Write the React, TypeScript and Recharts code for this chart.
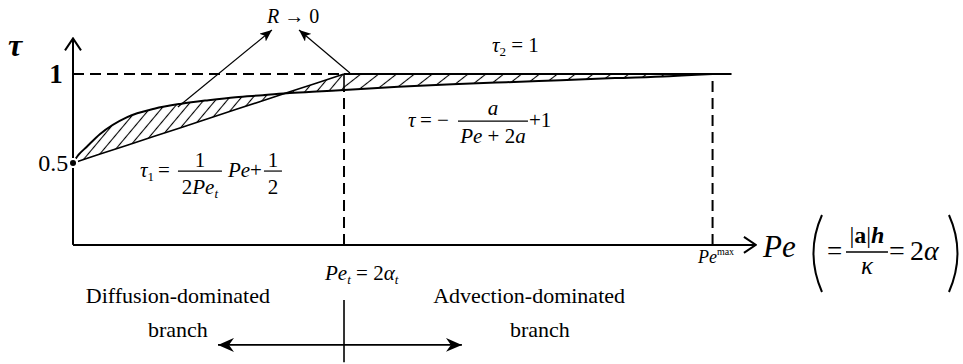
import React from 'react';
import { Area, ComposedChart, Line, ReferenceDot, ReferenceLine, XAxis, YAxis } from 'recharts';

const SERIF = '"Liberation Serif", "Times New Roman", Times, serif';
const INK = '#000';

// Pe samples along the horizontal axis, in units of Pe_t
const PE = [0, 0.02, 0.05, 0.1, 0.2, 0.3, 0.4, 0.5, 0.6, 0.7, 0.8, 0.9, 1.0, 1.2, 1.4, 1.6, 1.8, 2.0, 2.2, 2.3, 2.36, 2.43];
// optimal tau (diffusion branch, then -a/(Pe+2a)+1)
const TAU_OPT = [0.5, 0.545, 0.59, 0.663, 0.758, 0.805, 0.833, 0.853, 0.87, 0.881, 0.893, 0.902, 0.91, 0.928, 0.942, 0.954, 0.965, 0.977, 0.988, 0.996, 1.0, null];
// tau_1 = Pe/(2 Pe_t) + 1/2
const TAU_1 = [0.5, 0.51, 0.525, 0.55, 0.6, 0.65, 0.7, 0.75, 0.8, 0.85, 0.9, 0.95, 1.0, null, null, null, null, null, null, null, null, null];
// tau_2 = 1
const TAU_2 = [null, null, null, null, null, null, null, null, null, null, null, null, 1, 1, 1, 1, 1, 1, 1, 1, 1, 1];

const PE_T = 1;
const PE_MAX = 2.36;
const TAU_T = 0.91;
const AXIS_TAU = 0.04;
const AXIS_TOP = 1.2;
const AXIS_END = 2.52;

const X_DOMAIN: [number, number] = [-0.2694, 3.2841];
const Y_DOMAIN: [number, number] = [-0.6292, 1.4157];

const data = PE.map((pe, i) => ({ pe, opt: TAU_OPT[i], lin: TAU_1[i], top: TAU_2[i] }));

const lowerBand = (d: any) => (d.lin != null && d.opt != null ? [d.lin, d.opt] : null);
const upperBand = (d: any) => (d.top != null && d.opt != null ? [d.opt, d.top] : null);

const arrow = (marker: string, start?: string) => (p: any) => (
  <line
    x1={p.x1}
    y1={p.y1}
    x2={p.x2}
    y2={p.y2}
    stroke={INK}
    strokeWidth={p.strokeWidth}
    markerEnd={`url(#${marker})`}
    markerStart={start ? `url(#${start})` : undefined}
  />
);

type At = { x: number; y: number };

function Tau1Formula({ x, y }: At) {
  return (
    <g fontFamily={SERIF} fontSize={21} fill={INK}>
      <text x={x} y={y} fontStyle="italic">
        τ<tspan fontStyle="normal" fontSize={13} dy={4}>1</tspan>
      </text>
      <text x={x + 18} y={y}>=</text>
      <line x1={x + 38} x2={x + 82} y1={y - 6} y2={y - 6} stroke={INK} strokeWidth={1.2} />
      <text x={x + 60} y={y - 10} textAnchor="middle">1</text>
      <text x={x + 60} y={y + 17} textAnchor="middle">
        2<tspan fontStyle="italic">Pe</tspan>
        <tspan fontStyle="italic" fontSize={13} dy={4}>t</tspan>
      </text>
      <text x={x + 88} y={y} fontStyle="italic">Pe</text>
      <text x={x + 110} y={y}>+</text>
      <line x1={x + 124} x2={x + 142} y1={y - 6} y2={y - 6} stroke={INK} strokeWidth={1.2} />
      <text x={x + 133} y={y - 10} textAnchor="middle">1</text>
      <text x={x + 133} y={y + 17} textAnchor="middle">2</text>
    </g>
  );
}

function TauRightFormula({ x, y }: At) {
  return (
    <g fontFamily={SERIF} fontSize={21} fill={INK}>
      <text x={x} y={y} fontStyle="italic">τ</text>
      <text x={x + 12} y={y}>=</text>
      <text x={x + 29} y={y}>−</text>
      <line x1={x + 50} x2={x + 120} y1={y - 6} y2={y - 6} stroke={INK} strokeWidth={1.2} />
      <text x={x + 85} y={y - 12} textAnchor="middle" fontStyle="italic">a</text>
      <text x={x + 85} y={y + 16} textAnchor="middle">
        <tspan fontStyle="italic">Pe</tspan> + 2<tspan fontStyle="italic">a</tspan>
      </text>
      <text x={x + 121} y={y}>+1</text>
    </g>
  );
}

function Tau2Formula({ x, y }: At) {
  return (
    <text x={x} y={y} fontFamily={SERIF} fontSize={21} fill={INK}>
      <tspan fontStyle="italic">τ</tspan>
      <tspan fontSize={13} dy={4}>2</tspan>
      <tspan dy={-4}> = 1</tspan>
    </text>
  );
}

function PeTLabel({ x, y }: At) {
  return (
    <text x={x} y={y} fontFamily={SERIF} fontSize={21} fill={INK}>
      <tspan fontStyle="italic">Pe</tspan>
      <tspan fontStyle="italic" fontSize={13} dy={4}>t</tspan>
      <tspan dy={-4}> = 2</tspan>
      <tspan fontStyle="italic">α</tspan>
      <tspan fontStyle="italic" fontSize={13} dy={4}>t</tspan>
    </text>
  );
}

function PeMaxLabel({ x, y }: At) {
  return (
    <text x={x} y={y} fontFamily={SERIF} fontSize={18} fill={INK}>
      <tspan fontStyle="italic">Pe</tspan>
      <tspan fontSize={10} dy={-8}>max</tspan>
    </text>
  );
}

function PeAxisTitle({ x, y }: At) {
  const px = x + 49;
  return (
    <g fontFamily={SERIF} fill={INK}>
      <text x={x} y={y} fontSize={31} fontStyle="italic">Pe</text>
      <path d={`M${px + 10},${y - 42} Q${px - 7},${y - 4} ${px + 10},${y + 35}`} fill="none" stroke={INK} strokeWidth={2} />
      <text x={px + 15} y={y + 3} fontSize={27}>=</text>
      <line x1={px + 34} x2={px + 76} y1={y - 5} y2={y - 5} stroke={INK} strokeWidth={1.3} />
      <text x={px + 55} y={y - 14} fontSize={24} textAnchor="middle">
        |<tspan fontWeight="bold">a</tspan>|<tspan fontStyle="italic" fontWeight="bold">h</tspan>
      </text>
      <text x={px + 55} y={y + 17} fontSize={25} textAnchor="middle" fontStyle="italic">κ</text>
      <text x={px + 77} y={y + 3} fontSize={28}>=</text>
      <text x={px + 98} y={y + 3} fontSize={28}>
        2<tspan fontStyle="italic">α</tspan>
      </text>
      <path d={`M${px + 137},${y - 42} Q${px + 154},${y - 4} ${px + 137},${y + 35}`} fill="none" stroke={INK} strokeWidth={2} />
    </g>
  );
}

const label =
  (node: (at: At) => React.ReactElement) =>
  (p: any) =>
    node({ x: p.cx, y: p.cy });

const plain =
  (text: string, size: number, anchor: 'start' | 'middle' | 'end' = 'start', style: React.CSSProperties = {}) =>
  (p: any) => (
    <text x={p.cx} y={p.cy} fontFamily={SERIF} fontSize={size} textAnchor={anchor} fill={INK} style={style}>
      {text}
    </text>
  );

export default function App() {
  return (
    <div style={{ position: 'absolute', left: 0, top: 0, width: 963, height: 364, background: '#fff' }}>
      <ComposedChart width={963} height={364} data={data} margin={{ top: 0, right: 0, bottom: 0, left: 0 }}>
        <defs>
          <pattern id="hatchL" patternUnits="userSpaceOnUse" width={9} height={9} patternTransform="rotate(40)">
            <line x1={4.5} y1={0} x2={4.5} y2={9} stroke={INK} strokeWidth={1.1} />
          </pattern>
          <pattern id="hatchR" patternUnits="userSpaceOnUse" width={11} height={11} patternTransform="rotate(52)">
            <line x1={5.5} y1={0} x2={5.5} y2={11} stroke={INK} strokeWidth={1.1} />
          </pattern>
          <marker id="chev" viewBox="0 0 14 18" refX={13} refY={9} markerWidth={14} markerHeight={18} markerUnits="userSpaceOnUse" orient="auto">
            <path d="M1,1 L13,9 L1,17" fill="none" stroke={INK} strokeWidth={2} />
          </marker>
          <marker id="tri" viewBox="0 0 12 10" refX={12} refY={5} markerWidth={12} markerHeight={10} markerUnits="userSpaceOnUse" orient="auto">
            <path d="M0,0 L12,5 L0,10 L3,5 Z" fill={INK} />
          </marker>
          <marker id="tri2" viewBox="0 0 16 14" refX={16} refY={7} markerWidth={16} markerHeight={14} markerUnits="userSpaceOnUse" orient="auto-start-reverse">
            <path d="M0,0 L16,7 L0,14 L5,7 Z" fill={INK} />
          </marker>
        </defs>

        <XAxis type="number" dataKey="pe" domain={X_DOMAIN} hide allowDataOverflow />
        <YAxis type="number" domain={Y_DOMAIN} hide allowDataOverflow />

        <Area type="monotone" dataKey={lowerBand} stroke="none" fill="url(#hatchL)" fillOpacity={1} isAnimationActive={false} />
        <Area type="monotone" dataKey={upperBand} stroke="none" fill="url(#hatchR)" fillOpacity={1} isAnimationActive={false} />

        <Line type="monotone" dataKey="opt" stroke={INK} strokeWidth={2} dot={false} isAnimationActive={false} />
        <Line type="linear" dataKey="lin" stroke={INK} strokeWidth={1.6} dot={false} isAnimationActive={false} />
        <Line type="linear" dataKey="top" stroke={INK} strokeWidth={2.2} dot={false} isAnimationActive={false} />

        {/* guides */}
        <ReferenceLine segment={[{ x: 0, y: 1 }, { x: PE_T, y: 1 }]} stroke={INK} strokeWidth={2} strokeDasharray="11 6" />
        <ReferenceLine segment={[{ x: PE_T, y: TAU_T }, { x: PE_T, y: 1 }]} stroke={INK} strokeWidth={1.6} />
        <ReferenceLine segment={[{ x: PE_T, y: AXIS_TAU }, { x: PE_T, y: TAU_T }]} stroke={INK} strokeWidth={2} strokeDasharray="11 6" />
        <ReferenceLine segment={[{ x: PE_MAX, y: AXIS_TAU }, { x: PE_MAX, y: 1 }]} stroke={INK} strokeWidth={2} strokeDasharray="11 6" />

        {/* axes */}
        <ReferenceLine segment={[{ x: 0, y: AXIS_TAU }, { x: 0, y: AXIS_TOP }]} strokeWidth={2} shape={arrow('chev')} />
        <ReferenceLine segment={[{ x: 0, y: AXIS_TAU }, { x: AXIS_END, y: AXIS_TAU }]} strokeWidth={2} shape={arrow('chev')} />

        {/* R -> 0 pointers */}
        <ReferenceLine segment={[{ x: 0.387, y: 0.815 }, { x: 0.734, y: 1.247 }]} strokeWidth={1.2} shape={arrow('tri')} />
        <ReferenceLine segment={[{ x: 1.022, y: 1.006 }, { x: 0.834, y: 1.247 }]} strokeWidth={1.2} shape={arrow('tri')} />

        {/* branch split */}
        <ReferenceLine segment={[{ x: 0.535, y: -0.522 }, { x: 1.435, y: -0.522 }]} strokeWidth={1.6} shape={arrow('tri2', 'tri2')} />
        <ReferenceLine segment={[{ x: PE_T, y: -0.27 }, { x: PE_T, y: -0.62 }]} stroke={INK} strokeWidth={1.6} />

        {/* labels */}
        <ReferenceDot x={-0.24} y={1.101} shape={plain('τ', 32, 'start', { fontStyle: 'italic', fontWeight: 'bold' })} />
        <ReferenceDot x={-0.063} y={0.949} shape={plain('1', 27, 'middle', { fontWeight: 'bold' })} />
        <ReferenceDot x={-0.018} y={0.455} shape={plain('0.5', 24, 'end')} />
        <ReferenceDot
          x={0.716}
          y={1.287}
          shape={(p: any) => (
            <text x={p.cx} y={p.cy} fontFamily={SERIF} fontSize={20} fill={INK}>
              <tspan fontStyle="italic">R</tspan> → 0
            </text>
          )}
        />
        <ReferenceDot x={0.247} y={0.421} shape={label(Tau1Formula)} />
        <ReferenceDot x={1.546} y={1.124} shape={label(Tau2Formula)} />
        <ReferenceDot x={1.236} y={0.702} shape={label(TauRightFormula)} />
        <ReferenceDot x={0.93} y={-0.157} shape={label(PeTLabel)} />
        <ReferenceDot x={2.306} y={-0.062} shape={label(PeMaxLabel)} />
        <ReferenceDot x={2.546} y={-0.028} shape={label(PeAxisTitle)} />
        <ReferenceDot x={0.387} y={-0.287} shape={plain('Diffusion-dominated', 22, 'middle')} />
        <ReferenceDot x={0.387} y={-0.478} shape={plain('branch', 22, 'middle')} />
        <ReferenceDot x={1.683} y={-0.287} shape={plain('Advection-dominated', 22, 'middle')} />
        <ReferenceDot x={1.723} y={-0.478} shape={plain('branch', 22, 'middle')} />
      </ComposedChart>
    </div>
  );
}
